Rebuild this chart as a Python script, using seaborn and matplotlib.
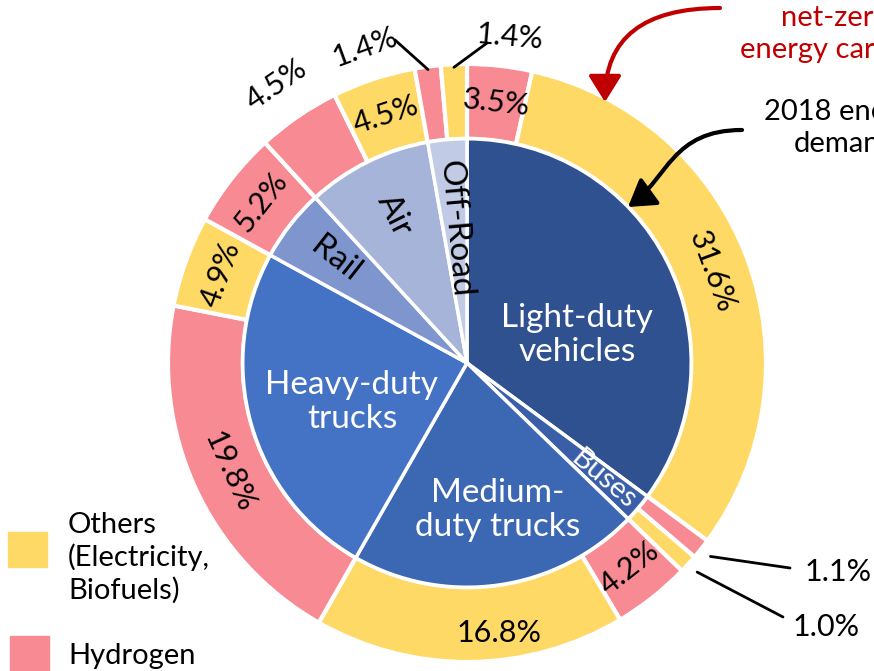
import numpy as np
import matplotlib.pyplot as plt
import seaborn as sns
from matplotlib.patches import Rectangle, FancyArrowPatch
from matplotlib.path import Path

# data: 2018 transport energy demand (inner) and net-zero carriers (outer)
sectors = ["Light-duty\nvehicles", "Buses", "Medium-\nduty trucks", "Heavy-duty\ntrucks", "Rail", "Air", "Off-Road"]
demand_2018 = [35.1, 2.1, 21.0, 24.7, 5.2, 9.0, 2.8]
hydrogen = [3.5, 1.1, 4.2, 19.8, 5.2, 4.5, 1.4]
others = [31.6, 1.0, 16.8, 4.9, 0.0, 4.5, 1.4]

sector_colors = ["#2F5190", "#3A5FA8", "#3C67B2", "#4472C4", "#7F95CE", "#A7B4D9", "#C2CBE5"]
sector_text = ["white", "white", "white", "white", "black", "black", "black"]
YEL = "#FFD966"
PNK = "#F78A93"

sns.set_style("white")
plt.rcParams["font.family"] = ["Lato", "DejaVu Sans"]
plt.rcParams["text.color"] = "black"

fig = plt.figure(figsize=(8.74, 6.71), dpi=100)
ax = fig.add_axes([0, 0, 1, 1])

CX, CY, R = 467, 363, 299
def px(x, y):
    return ((x - CX) / R, (CY - y) / R)

# outer ring: hydrogen then others inside each sector
outer_vals, outer_cols = [], []
for h, o in zip(hydrogen, others):
    for v, c in ((h, PNK), (o, YEL)):
        if v > 0:
            outer_vals.append(v)
            outer_cols.append(c)

ax.pie(outer_vals, radius=1.0, colors=outer_cols, startangle=90, counterclock=False,
       wedgeprops=dict(width=0.25, edgecolor="white", linewidth=3))
ax.pie(demand_2018, radius=0.75, colors=sector_colors, startangle=90, counterclock=False,
       wedgeprops=dict(edgecolor="white", linewidth=2.5))

def mid_angle(cum, v, total):
    return 90 - 360 * (cum + v / 2) / total

def upright(a):
    a = (a + 180) % 360 - 180
    if a > 90:
        a -= 180
    elif a <= -90:
        a += 180
    return a

# outer labels
tot = sum(outer_vals)
lead = {  # index: (line end px, text px, rotation, ha)
    11: ((395, 40), (365, 47), 20, "center"),
    12: ((487, 43), (510, 37), -5, "center"),
    2: ((790, 568), (805, 572), 0, "left"),
    3: ((783, 617), (793, 627), 0, "left"),
}
cum = 0
for i, v in enumerate(outer_vals):
    th = mid_angle(cum, v, tot)
    t = np.radians(th)
    lab = f"{v:.1f}%"
    if i in lead:
        end, tp, rot, ha = lead[i]
        r0 = 0.99 if i > 10 else 1.04
        ex, ey = px(*end)
        ax.plot([r0 * np.cos(t), ex], [r0 * np.sin(t), ey], color="black", lw=2, clip_on=False)
        ax.text(*px(*tp), lab, ha=ha, va="center", rotation=rot, fontsize=22)
    elif i == 5:
        ax.text(*px(499, 633), lab, ha="center", va="center", fontsize=22)
    elif i == 9:
        ax.text(1.13 * np.cos(t), 1.13 * np.sin(t), lab, ha="center", va="center",
                rotation=upright(th - 90), fontsize=22)
    else:
        ax.text(0.875 * np.cos(t), 0.875 * np.sin(t), lab, ha="center", va="center",
                rotation=upright(th - 90), fontsize=22)
    cum += v

# inner labels
flat = {0: (577, 335), 2: (498, 510), 3: (352, 402)}
radial = {1: (0.6, 21), 4: (0.56, 24), 5: (0.55, 24), 6: (0.45, 24)}
tot = sum(demand_2018)
cum = 0
for i, (name, v) in enumerate(zip(sectors, demand_2018)):
    th = mid_angle(cum, v, tot)
    t = np.radians(th)
    if i in flat:
        ax.text(*px(*flat[i]), name, ha="center", va="center", color=sector_text[i],
                fontsize=24, linespacing=1.2)
    else:
        r, fs = radial[i]
        ax.text(r * np.cos(t), r * np.sin(t), name, ha="center", va="center",
                rotation=upright(th), color=sector_text[i], fontsize=fs)
    cum += v

# annotations on the right
ax.text(*px(835, 34), "net-zero\nenergy carriers", ha="center", va="center",
        color="#C00000", fontsize=21, linespacing=1.25)
ax.text(*px(845, 128), "2018 energy\ndemand", ha="center", va="center",
        color="black", fontsize=21, linespacing=1.25)

ax.add_patch(FancyArrowPatch(px(720, 8), px(605, 102), connectionstyle="angle3,angleA=180,angleB=90",
                             arrowstyle="-|>,head_length=0.8,head_width=0.5", mutation_scale=20,
                             color="#C00000", lw=3, shrinkA=0, shrinkB=0, clip_on=False))
pts = [px(742, 130), px(672, 130), px(668, 178), px(628, 207)]
ax.add_patch(FancyArrowPatch(path=Path(pts, [Path.MOVETO, Path.CURVE4, Path.CURVE4, Path.CURVE4]),
                             arrowstyle="-|>,head_length=0.8,head_width=0.5", mutation_scale=20,
                             color="black", lw=3, clip_on=False))

# legend
ax.add_patch(Rectangle(px(8, 567), 39 / R, 35 / R, color=YEL, clip_on=False))
ax.add_patch(Rectangle(px(10, 671), 39 / R, 35 / R, color=PNK, clip_on=False))
ax.text(*px(68, 558), "Others\n(Electricity,\nBiofuels)", ha="left", va="center", fontsize=21, linespacing=1.25)
ax.text(*px(68, 656), "Hydrogen", ha="left", va="center", fontsize=21)

ax.set_xlim(-CX / R, (874 - CX) / R)
ax.set_ylim(-(671 - CY) / R, CY / R)
ax.set_aspect("equal", adjustable="datalim")
ax.axis("off")

fig.savefig("out.png", dpi=100)
